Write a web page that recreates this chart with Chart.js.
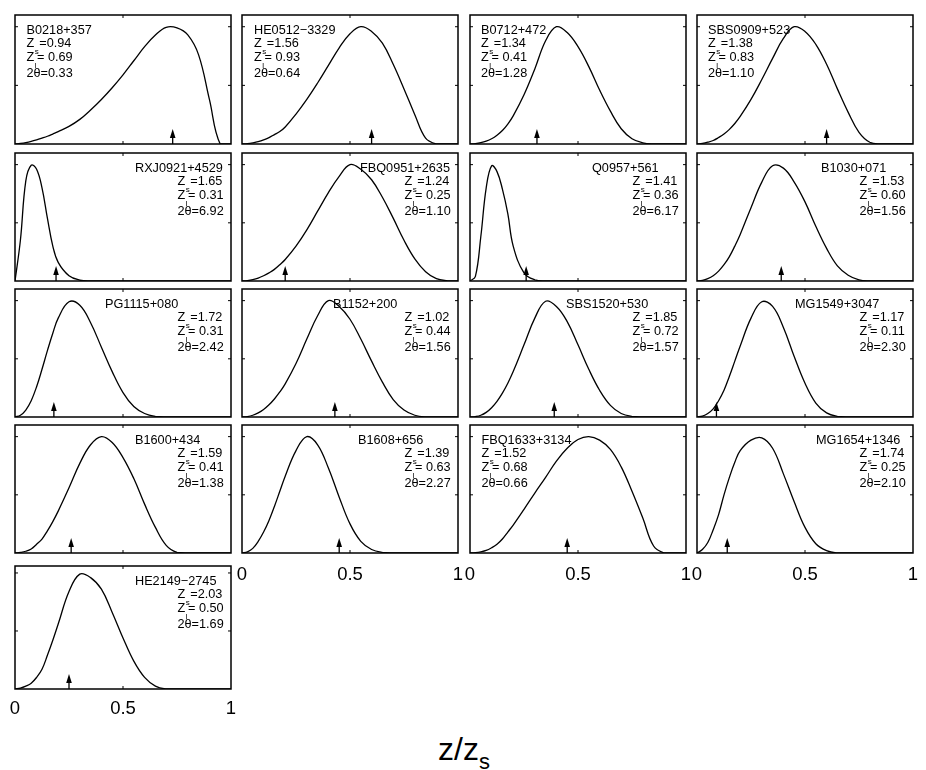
<!DOCTYPE html>
<html>
<head>
<meta charset="utf-8">
<script src="https://cdn.jsdelivr.net/npm/chart.js@4.4.0/dist/chart.umd.min.js"></script>
<style>
  html, body { margin: 0; padding: 0; background: #fff; }
  body { width: 926px; height: 770px; position: relative; overflow: hidden; font-family: "Liberation Sans", Arial, sans-serif; }
  canvas { position: absolute; }
  #xtitle { position: absolute; left: 438px; top: 733px; font-size: 32px; line-height: 32px; white-space: nowrap; }
  #xtitle span { font-size: 22px; position: relative; top: 9px; }
</style>
</head>
<body>
<div id="xtitle">z/z<span>s</span></div>
<script>
// common z/zs sampling grid
const zGrid = [0, .025, .05, .075, .1, .125, .15, .175, .2, .25, .3, .35, .4, .45, .5, .55, .6, .65, .7, .75, .8, .85, .9, .95, 1];

const lensNames = ['B0218+357', 'HE0512\u22123329', 'B0712+472', 'SBS0909+523',
  'RXJ0921+4529', 'FBQ0951+2635', 'Q0957+561', 'B1030+071',
  'PG1115+080', 'B1152+200', 'SBS1520+530', 'MG1549+3047',
  'B1600+434', 'B1608+656', 'FBQ1633+3134', 'MG1654+1346',
  'HE2149\u22122745'];
const zSource = [0.94, 1.56, 1.34, 1.38, 1.65, 1.24, 1.41, 1.53, 1.72, 1.02, 1.85, 1.17, 1.59, 1.39, 1.52, 1.74, 2.03];
const zLens = [0.69, 0.93, 0.41, 0.83, 0.31, 0.25, 0.36, 0.60, 0.31, 0.44, 0.72, 0.11, 0.41, 0.63, 0.68, 0.25, 0.50];
const twoTheta = [0.33, 0.64, 1.28, 1.10, 6.92, 1.10, 6.17, 1.56, 2.42, 1.56, 1.57, 2.30, 1.38, 2.27, 0.66, 2.10, 1.69];
// arrow = observed z_l/z_s
const arrowAt = [0.73, 0.60, 0.31, 0.60, 0.19, 0.20, 0.26, 0.39, 0.18, 0.43, 0.39, 0.09, 0.26, 0.45, 0.45, 0.14, 0.25];

const xTickValues = [0, 0.5, 1];
const xTickLabels = ['0', '0.5', '1'];
const yTickValues = [0.5, 1];

// probability curves, read on zGrid
const pB0218 = [0, .005, .012, .022, .035, .05, .066, .085, .105, .15, .21, .29, .38, .48, .59, .71, .83, .93, .995, .99, .93, .76, .38, 0, 0];
const pHE0512 = [0, .003, .01, .02, .035, .055, .08, .106, .145, .255, .38, .52, .67, .82, .94, 1.0, .96, .86, .68, .47, .25, .05, 0, 0, 0];
const pB0712 = [0, .004, .012, .025, .045, .075, .115, .17, .24, .42, .64, .88, 1.0, .95, .83, .66, .46, .28, .13, .045, .01, 0, 0, 0, 0];
const pSBS0909 = [0, .005, .015, .03, .055, .085, .125, .175, .235, .38, .55, .73, .9, 1.0, .96, .85, .68, .47, .27, .1, .015, 0, 0, 0, 0];
const pRXJ0921 = [0, .35, .86, .995, .96, .8, .54, .3, .16, .045, .008, 0, 0, 0, 0, 0, 0, 0, 0, 0, 0, 0, 0, 0, 0];
const pFBQ0951 = [0, .004, .012, .025, .045, .07, .1, .14, .185, .3, .44, .6, .76, .9, 1.0, .96, .87, .72, .54, .35, .19, .08, .02, .003, 0];
const pQ0957 = [0, .04, .38, .8, .99, .94, .79, .58, .3, .07, .01, 0, 0, 0, 0, 0, 0, 0, 0, 0, 0, 0, 0, 0, 0];
const pB1030 = [0, .005, .02, .045, .085, .14, .21, .3, .4, .63, .85, .99, .97, .85, .68, .47, .28, .13, .05, .01, 0, 0, 0, 0, 0];
const pPG1115 = [0, .015, .06, .14, .26, .41, .57, .72, .85, .99, .96, .81, .6, .39, .21, .09, .03, .005, 0, 0, 0, 0, 0, 0, 0];
const pB1152 = [0, .004, .015, .035, .065, .105, .155, .215, .285, .46, .67, .87, 1.0, .95, .84, .67, .48, .3, .15, .06, .015, 0, 0, 0, 0];
const pSBS1520 = [0, .004, .015, .04, .08, .135, .205, .29, .39, .62, .85, .995, .95, .82, .62, .41, .23, .1, .03, .005, 0, 0, 0, 0, 0];
const pMG1549 = [0, .008, .03, .07, .14, .23, .35, .48, .61, .85, .99, .95, .77, .52, .29, .12, .035, .005, 0, 0, 0, 0, 0, 0, 0];
const pB1600 = [0, .005, .015, .035, .075, .12, .19, .27, .36, .56, .77, .93, 1.0, .95, .82, .64, .42, .22, .066, .005, 0, 0, 0, 0, 0];
const pB1608 = [0, .01, .04, .1, .18, .28, .4, .53, .66, .88, 1.0, .93, .73, .48, .25, .1, .03, .005, 0, 0, 0, 0, 0, 0, 0];
const pFBQ1633 = [0, .003, .01, .022, .045, .075, .12, .18, .24, .375, .515, .65, .79, .9, .975, 1.0, .97, .89, .74, .53, .3, .06, 0, 0, 0];
const pMG1654 = [0, .03, .09, .2, .33, .5, .65, .78, .88, .97, .99, .9, .68, .44, .22, .08, .02, 0, 0, 0, 0, 0, 0, 0, 0];
const pHE2149 = [0, .008, .025, .05, .1, .17, .29, .42, .56, .84, .99, .96, .86, .66, .44, .24, .1, .025, 0, 0, 0, 0, 0, 0, 0];

const curves = [pB0218, pHE0512, pB0712, pSBS0909, pRXJ0921, pFBQ0951, pQ0957, pB1030,
  pPG1115, pB1152, pSBS1520, pMG1549, pB1600, pB1608, pFBQ1633, pMG1654, pHE2149];

// layout
const colLeft = [15, 242, 470, 697];
const rowTop = [15, 153, 289, 425, 566];
const rowBottom = [144, 281, 417, 553, 689];
const rowYMax = [1.1, 1.1, 1.1, 1.1, 1.06];
const boxWidth = 216;
const padL = 14, padR = 14, padT = 6, padB = 36;
const textSide = ['L', 'L', 'L', 'L', 'R', 'R', 'R', 'R', 'R', 'R', 'R', 'R', 'R', 'R', 'L', 'R', 'R'];
const nameDx = [11.5, 12, 11, 11, 120, 118, 122, 124, 90, 91, 96, 98, 120, 116, 11.5, 119, 120];
const lineDy = [18.5, 32, 46, 62];
const labelledPanels = [13, 14, 15, 16];
const mainFont = '12.7px "Liberation Sans", Arial, sans-serif';
const subFont = '8px "Liberation Sans", Arial, sans-serif';
const tickFont = '18.5px "Liberation Sans", Arial, sans-serif';

function drawZ(ctx, x, y, sub, rest) {
  ctx.font = mainFont;
  ctx.fillText('Z', x, y);
  const w = ctx.measureText('Z').width;
  ctx.font = subFont;
  ctx.fillText(sub, x + w + 0.5, y + 6.5);
  const sw = ctx.measureText(sub).width;
  ctx.font = mainFont;
  ctx.fillText(rest, x + w + sw + 1, y);
}

const panelDecor = {
  id: 'panelDecor',
  afterDraw(chart, args, o) {
    const ctx = chart.ctx;
    const a = chart.chartArea;
    const xs = chart.scales.x, ys = chart.scales.y;
    ctx.save();
    ctx.strokeStyle = '#000';
    ctx.fillStyle = '#000';

    // frame
    ctx.lineWidth = 1.5;
    ctx.strokeRect(a.left, a.top, a.right - a.left, a.bottom - a.top);

    // inner ticks
    ctx.lineWidth = 1;
    ctx.beginPath();
    const xm = xs.getPixelForValue(0.5);
    ctx.moveTo(xm, a.bottom); ctx.lineTo(xm, a.bottom - 3);
    ctx.moveTo(xm, a.top); ctx.lineTo(xm, a.top + 3);
    yTickValues.forEach(v => {
      const py = ys.getPixelForValue(v);
      ctx.moveTo(a.left, py); ctx.lineTo(a.left + 3, py);
      ctx.moveTo(a.right, py); ctx.lineTo(a.right - 3, py);
    });
    ctx.stroke();

    // arrow at z_l/z_s
    const ax = xs.getPixelForValue(arrowAt[o.i]);
    ctx.lineWidth = 1.3;
    ctx.beginPath();
    ctx.moveTo(ax, a.bottom); ctx.lineTo(ax, a.bottom - 7);
    ctx.stroke();
    ctx.beginPath();
    ctx.moveTo(ax, a.bottom - 15);
    ctx.lineTo(ax - 2.8, a.bottom - 6);
    ctx.lineTo(ax + 2.8, a.bottom - 6);
    ctx.closePath();
    ctx.fill();

    // labels
    const i = o.i;
    const nx = a.left + nameDx[i];
    const vx = textSide[i] === 'L' ? nx : a.left + 162.5;
    ctx.textAlign = 'left';
    ctx.textBaseline = 'alphabetic';
    ctx.font = mainFont;
    ctx.fillText(lensNames[i], nx, a.top + lineDy[0]);
    drawZ(ctx, vx, a.top + lineDy[1], 's', '=' + zSource[i].toFixed(2));
    drawZ(ctx, vx, a.top + lineDy[2], 'l', '= ' + zLens[i].toFixed(2));
    ctx.font = mainFont;
    ctx.fillText('2\u03b8=' + twoTheta[i].toFixed(2), vx, a.top + lineDy[3]);

    // x tick labels on the lowest panel of each column
    if (labelledPanels.includes(i)) {
      ctx.font = tickFont;
      ctx.textAlign = 'center';
      const dy = o.row === 4 ? 24.5 : 26.5;
      xTickValues.forEach((v, k) => {
        ctx.fillText(xTickLabels[k], xs.getPixelForValue(v), a.bottom + dy);
      });
    }
    ctx.restore();
  }
};

curves.forEach((curve, i) => {
  const r = Math.floor(i / 4), c = i % 4;
  const h = rowBottom[r] - rowTop[r];
  const canvas = document.createElement('canvas');
  canvas.width = boxWidth + padL + padR;
  canvas.height = h + padT + padB;
  canvas.style.left = (colLeft[c] - padL) + 'px';
  canvas.style.top = (rowTop[r] - padT) + 'px';
  canvas.style.width = canvas.width + 'px';
  canvas.style.height = canvas.height + 'px';
  document.body.appendChild(canvas);

  new Chart(canvas, {
    type: 'line',
    data: {
      datasets: [{
        data: zGrid.map((z, k) => ({ x: z, y: curve[k] })),
        borderColor: '#000',
        borderWidth: 1.3,
        pointRadius: 0,
        fill: false,
        tension: 0.4
      }]
    },
    options: {
      responsive: false,
      animation: false,
      devicePixelRatio: 1,
      layout: { padding: { left: padL, right: padR, top: padT, bottom: padB } },
      plugins: {
        legend: { display: false },
        tooltip: { enabled: false },
        panelDecor: { i: i, row: r }
      },
      scales: {
        x: { type: 'linear', min: 0, max: 1, display: false },
        y: { type: 'linear', min: 0, max: rowYMax[r], display: false }
      }
    },
    plugins: [panelDecor]
  });
});
</script>
</body>
</html>
